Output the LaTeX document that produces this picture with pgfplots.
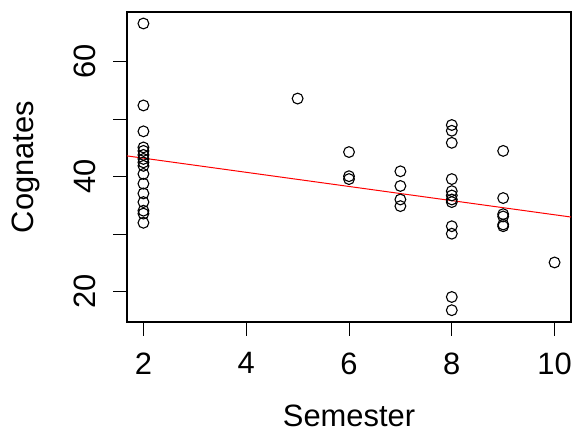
\documentclass[border=0pt]{standalone}
\usepackage{pgfplots}
\pgfplotsset{compat=1.18}
\usepackage{fontspec}
\setmainfont{Liberation Sans}
\begin{document}
\begin{tikzpicture}
\useasboundingbox (-127bp,-111bp) rectangle (446bp,322bp);
\begin{axis}[
  at={(0,0)}, anchor=south west,
  scale only axis, width=444bp, height=310bp,
  xmin=1.68, xmax=10.32, ymin=14.75, ymax=68.65,
  xtick={2,4,6,8,10}, ytick={20,30,40,50,60}, yticklabels={20,,40,,60},
  tick align=outside, major tick length=13.5bp,
  xtick pos=bottom, ytick pos=left,
  axis line style={line width=1.1bp},
  every tick/.style={black, line width=1bp},
  font=\fontsize{31}{36}\selectfont,
  ticklabel style={font=\fontsize{31}{36}\selectfont, inner sep=0pt},
  /pgf/number format/assume math mode=true,
  xticklabel style={anchor=north, yshift=-17bp},
  yticklabel style={rotate=90, anchor=south, yshift=17.5bp},
  xlabel={Semester}, ylabel={Cognates},
  every axis x label/.style={at={(axis description cs:0.5,-0.338)}, anchor=base, inner sep=0pt},
  every axis y label/.style={at={(axis description cs:-0.2117,0.5)}, rotate=90, anchor=base, inner sep=0pt},
]
\addplot[only marks, mark=o, mark size=5.4bp, mark options={line width=1.1bp, black}] coordinates {
  (2,66.65) (2,52.4) (2,47.9) (2,45.1) (2,44.5) (2,43.8) (2,43.1) (2,42.5) (2,41.9)
  (2,40.5) (2,38.8) (2,37.1) (2,35.6) (2,34.1) (2,33.6) (2,32.0)
  (5,53.6)
  (6,44.3) (6,40.1) (6,39.6)
  (7,40.95) (7,38.4) (7,36.05) (7,34.9)
  (8,49.0) (8,48.0) (8,45.9) (8,39.6) (8,37.5) (8,36.75) (8,36.05) (8,35.6)
  (8,31.4) (8,30.1) (8,19.1) (8,16.8)
  (9,44.5) (9,36.3) (9,33.5) (9,33.1) (9,31.7) (9,31.4)
  (10,25.1)
};
\addplot[red, line width=1bp] coordinates {(1.68,43.63) (10.32,33.0)};
\end{axis}
\end{tikzpicture}
\end{document}
